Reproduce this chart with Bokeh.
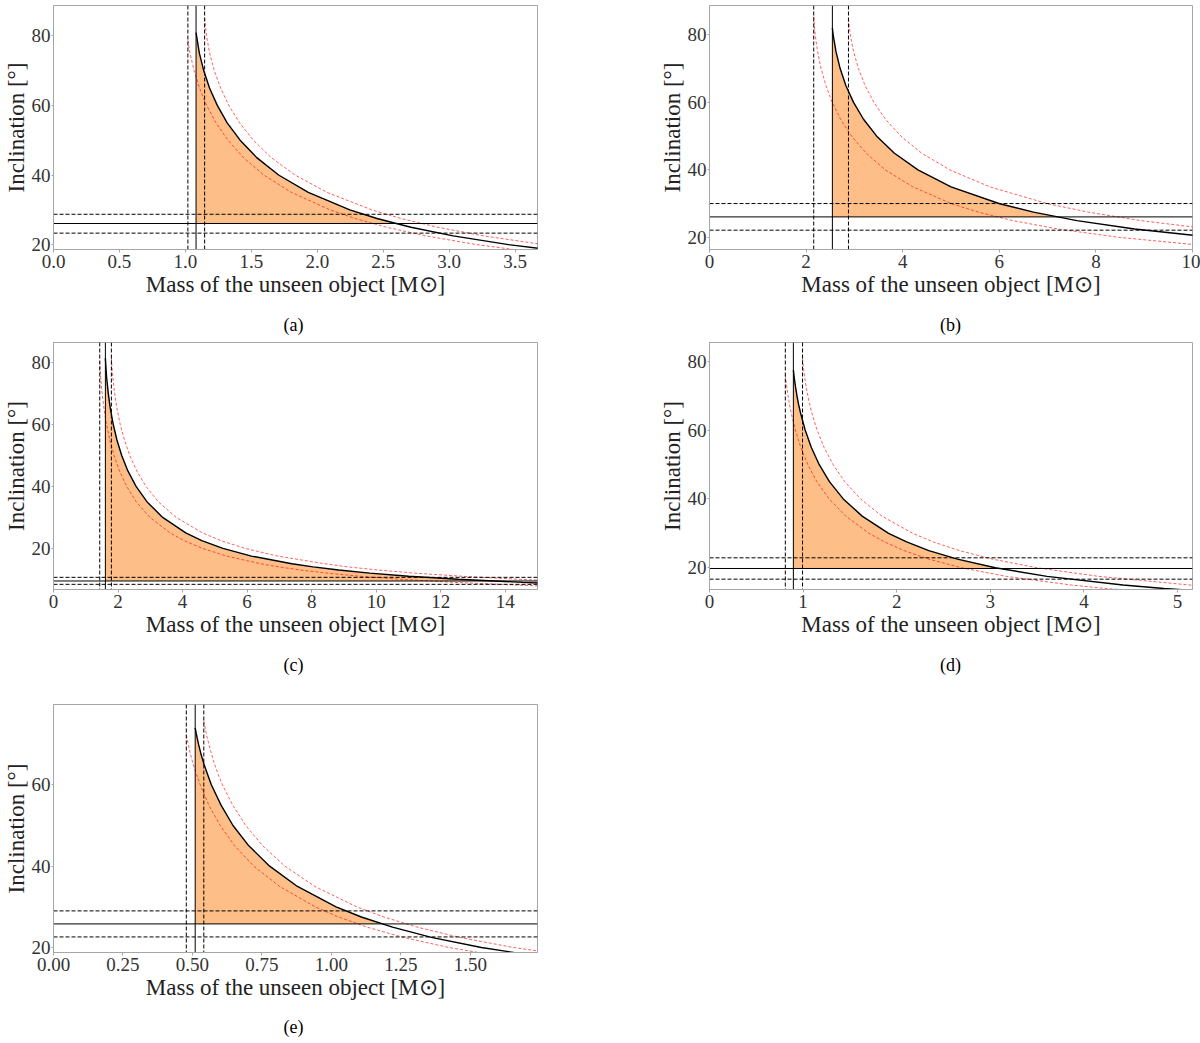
import numpy as np
from bokeh.plotting import figure
from bokeh.models import Range1d, FixedTicker, NumeralTickFormatter, Span, Div
from bokeh.layouts import column, row
from bokeh.embed import file_html
from bokeh.resources import INLINE

# ---------------- data ----------------
# vertical lines: [lower, best, upper] minimum mass of the unseen object
# horizontal lines: [lower, best, upper] inclination
a_vlines = [1.019, 1.081, 1.146]
a_hlines = [23.3, 26.07, 28.72]
a_black_inc = [80.9, 75, 70, 65, 60, 55, 50, 45, 40, 35, 30, 27.5, 25, 22.5, 20, 18]
a_black_m = [1.081, 1.106, 1.139, 1.183, 1.242, 1.317, 1.415, 1.541, 1.707, 1.932, 2.247, 2.453, 2.710, 3.031, 3.450, 3.882]
a_redlo_inc = [78.7, 75, 70, 65, 60, 55, 50, 45, 40, 35, 30, 27.5, 25, 22.5, 20, 18]
a_redlo_m = [1.019, 1.035, 1.066, 1.107, 1.161, 1.232, 1.323, 1.440, 1.595, 1.804, 2.096, 2.288, 2.526, 2.824, 3.210, 3.609]
a_redhi_inc = [85.1, 80, 75, 70, 65, 60, 55, 50, 45, 40, 35, 30, 27.5, 25, 22.5, 20, 18]
a_redhi_m = [1.146, 1.160, 1.184, 1.219, 1.267, 1.329, 1.411, 1.515, 1.651, 1.831, 2.074, 2.413, 2.636, 2.913, 3.263, 3.716, 4.185]

b_vlines = [2.158, 2.544, 2.877]
b_hlines = [22.17, 26.1, 30.05]
b_black_inc = [82, 80, 75, 70, 65, 60, 55, 50, 45, 40, 35, 30, 27.5, 25, 22.5, 20]
b_black_m = [2.544, 2.560, 2.619, 2.705, 2.823, 2.982, 3.189, 3.462, 3.823, 4.315, 5.000, 6.008, 6.708, 7.607, 8.801, 10.445]
b_redlo_inc = [85.4, 80, 75, 70, 65, 60, 55, 50, 45, 40, 35, 30, 27.5, 25, 22.5, 20, 17.5]
b_redlo_m = [2.158, 2.188, 2.238, 2.310, 2.409, 2.541, 2.714, 2.941, 3.241, 3.641, 4.208, 5.011, 5.571, 6.281, 7.220, 8.506, 10.339]
b_redhi_inc = [84.7, 80, 75, 70, 65, 60, 55, 50, 45, 40, 35, 30, 27.5, 25, 22.5]
b_redhi_m = [2.877, 2.914, 2.983, 3.084, 3.220, 3.403, 3.644, 3.963, 4.389, 4.976, 5.803, 7.001, 7.847, 8.931, 10.372]

c_vlines = [1.433, 1.608, 1.794]
c_hlines = [8.37, 9.45, 10.63]
c_black_inc = [81.4, 77.5, 75, 70, 65, 60, 55, 50, 45, 40, 35, 30, 25, 22.5, 20, 17.5, 15, 14, 13, 12, 11, 10, 9, 8.5]
c_black_m = [1.608, 1.631, 1.648, 1.698, 1.764, 1.852, 1.966, 2.114, 2.305, 2.559, 2.901, 3.384, 4.097, 4.596, 5.252, 6.134, 7.386, 8.048, 8.840, 9.805, 11.008, 12.541, 14.547, 15.808]
c_redlo_inc = [80.5, 77.5, 75, 70, 65, 60, 55, 50, 45, 40, 35, 30, 25, 22.5, 20, 17.5, 15, 14, 13, 12, 11, 10, 9, 8, 7.5]
c_redlo_m = [1.433, 1.449, 1.465, 1.508, 1.567, 1.645, 1.745, 1.875, 2.044, 2.267, 2.567, 2.989, 3.610, 4.045, 4.609, 5.365, 6.428, 6.987, 7.655, 8.468, 9.475, 10.752, 12.421, 14.678, 16.030]
c_redhi_inc = [81.5, 77.5, 75, 70, 65, 60, 55, 50, 45, 40, 35, 30, 25, 22.5, 20, 17.5, 15, 14, 13, 12, 11, 10, 9.5]
c_redhi_m = [1.794, 1.819, 1.840, 1.895, 1.970, 2.069, 2.198, 2.364, 2.580, 2.866, 3.253, 3.801, 4.615, 5.186, 5.931, 6.943, 8.412, 9.125, 10.051, 11.188, 12.610, 14.435, 15.539]

d_vlines = [0.810, 0.896, 0.994]
d_hlines = [16.7, 19.8, 22.9]
d_black_inc = [77.4, 75, 72.5, 70, 67.5, 65, 60, 55, 50, 45, 40, 35, 30, 27.5, 25, 22.5, 20, 17.5, 15, 14, 13]
d_black_m = [0.896, 0.906, 0.919, 0.934, 0.951, 0.972, 1.022, 1.087, 1.171, 1.281, 1.429, 1.631, 1.913, 2.106, 2.343, 2.649, 3.053, 3.606, 4.417, 4.854, 5.385]
d_redlo_inc = [76, 72.5, 70, 67.5, 65, 60, 55, 50, 45, 40, 35, 30, 27.5, 25, 22.5, 20, 17.5, 15, 14, 13]
d_redlo_m = [0.810, 0.825, 0.839, 0.854, 0.872, 0.917, 0.975, 1.049, 1.147, 1.278, 1.456, 1.705, 1.871, 2.078, 2.345, 2.694, 3.172, 3.865, 4.228, 4.686]
d_redhi_inc = [80.8, 77.5, 75, 72.5, 70, 67.5, 65, 60, 55, 50, 45, 40, 35, 30, 27.5, 25, 22.5, 20, 17.5, 15, 14]
d_redhi_m = [0.994, 1.006, 1.018, 1.033, 1.050, 1.069, 1.093, 1.149, 1.223, 1.319, 1.445, 1.613, 1.842, 2.171, 2.391, 2.668, 3.026, 3.502, 4.161, 5.132, 5.643]

e_vlines = [0.478, 0.510, 0.541]
e_hlines = [22.6, 25.8, 29.0]
e_black_inc = [74, 72.5, 70, 67.5, 65, 62.5, 60, 55, 50, 45, 40, 35, 30, 27.5, 25, 22.5, 20, 17.5]
e_black_m = [0.510, 0.514, 0.522, 0.531, 0.542, 0.555, 0.568, 0.603, 0.646, 0.703, 0.778, 0.878, 1.017, 1.108, 1.220, 1.360, 1.540, 1.778]
e_redlo_inc = [72.2, 70, 67.5, 65, 62.5, 60, 55, 50, 45, 40, 35, 30, 27.5, 25, 22.5, 20, 17.5]
e_redlo_m = [0.478, 0.485, 0.493, 0.503, 0.515, 0.528, 0.559, 0.600, 0.652, 0.721, 0.814, 0.942, 1.026, 1.129, 1.258, 1.423, 1.641]
e_redhi_inc = [75.7, 72.5, 70, 67.5, 65, 62.5, 60, 55, 50, 45, 40, 35, 30, 27.5, 25, 22.5, 20, 17.5]
e_redhi_m = [0.541, 0.550, 0.559, 0.569, 0.580, 0.593, 0.608, 0.645, 0.692, 0.753, 0.833, 0.941, 1.091, 1.189, 1.310, 1.461, 1.655, 1.914]

# axis extents and tick values
a_xrange, a_yrange = (0, 3.67), (18.6, 88.7)
b_xrange, b_yrange = (0, 10), (16.45, 88.67)
c_xrange, c_yrange = (0, 15), (6.7, 86.5)
d_xrange, d_yrange = (0, 5.16), (13.7, 85.4)
e_xrange, e_yrange = (0, 1.742), (18.77, 79.75)
a_xticks = [0.0, 0.5, 1.0, 1.5, 2.0, 2.5, 3.0, 3.5]
b_xticks = [0, 2, 4, 6, 8, 10]
c_xticks = [0, 2, 4, 6, 8, 10, 12, 14]
d_xticks = [0, 1, 2, 3, 4, 5]
e_xticks = [0.0, 0.25, 0.5, 0.75, 1.0, 1.25, 1.5]
yticks_4 = [20, 40, 60, 80]
yticks_3 = [20, 40, 60]
panel_labels = ["(a)", "(b)", "(c)", "(d)", "(e)"]

XLABEL = "Mass of the unseen object [M\u2299]"
YLABEL = "Inclination [\u00b0]"
FONT = "Liberation Serif"
FRAME = "#a6a6a6"
FILL = "#FDBF87"


def panel(xr, yr, xt, yt, xfmt, vl, hl, bl_i, bl_m, lo_i, lo_m, hi_i, hi_m,
          w, h, bleft, bright, btop, bbottom):
    p = figure(width=w, height=h, x_range=Range1d(*xr), y_range=Range1d(*yr),
               output_backend="svg", toolbar_location=None, title=None,
               min_border_left=bleft, min_border_right=bright,
               min_border_top=btop, min_border_bottom=bbottom)
    # filled region: right of best minimum mass, above best inclination, below black curve
    i_obs = hl[1]
    m_cross = float(np.interp(i_obs, bl_i[::-1], bl_m[::-1]))
    xs = [m for m, i in zip(bl_m, bl_i) if i >= i_obs] + [m_cross, vl[1]]
    ys = [i for i in bl_i if i >= i_obs] + [i_obs, i_obs]
    p.patch(xs, ys, fill_color=FILL, fill_alpha=1.0, line_color=None)
    # reference lines
    for k, v in enumerate(vl):
        dash = "solid" if k == 1 else "4 2"
        p.add_layout(Span(location=v, dimension="height", line_color="black",
                          line_width=1.0, line_dash=dash, level="glyph"))
    for k, v in enumerate(hl):
        dash = "solid" if k == 1 else "4 2"
        p.add_layout(Span(location=v, dimension="width", line_color="black",
                          line_width=1.0, line_dash=dash, level="glyph"))
    # curves
    p.line(lo_m, lo_i, line_color="red", line_alpha=0.7, line_width=0.9, line_dash="3 2")
    p.line(hi_m, hi_i, line_color="red", line_alpha=0.7, line_width=0.9, line_dash="3 2")
    p.line(bl_m, bl_i, line_color="black", line_width=1.4)

    p.xgrid.visible = False
    p.ygrid.visible = False
    p.outline_line_color = FRAME
    p.outline_line_width = 1
    p.xaxis.ticker = FixedTicker(ticks=xt)
    p.yaxis.ticker = FixedTicker(ticks=yt)
    p.xaxis.formatter = NumeralTickFormatter(format=xfmt)
    p.yaxis.formatter = NumeralTickFormatter(format="0")
    for ax in (p.xaxis[0], p.yaxis[0]):
        ax.axis_line_color = FRAME
        ax.major_tick_line_color = FRAME
        ax.major_tick_in = 0
        ax.minor_tick_line_color = None
        ax.major_label_text_font = FONT
        ax.major_label_text_font_size = "19px"
        ax.major_label_text_color = "#333333"
        ax.axis_label_text_font = FONT
        ax.axis_label_text_font_size = "23px"
        ax.axis_label_text_font_style = "normal"
        ax.axis_label_text_color = "#222222"
    p.xaxis.major_tick_out = 3
    p.xaxis.major_label_standoff = 2
    p.xaxis.axis_label_standoff = 1
    p.yaxis.major_tick_out = 2
    p.yaxis.major_label_standoff = 1
    p.yaxis.axis_label_standoff = 0
    p.xaxis.axis_label = XLABEL
    p.yaxis.axis_label = YLABEL
    return p


def caption(text, width, height):
    return Div(text=text, width=width, height=height, margin=(0, 0, 0, 0),
               styles={"text-align": "center", "font-family": FONT,
                       "font-size": "18px", "line-height": f"{height}px",
                       "color": "black"})


def gap(width, height):
    return Div(text="", width=width, height=height, margin=(0, 0, 0, 0))


pa = panel(a_xrange, a_yrange, a_xticks, yticks_4, "0.0",
           a_vlines, a_hlines, a_black_inc, a_black_m, a_redlo_inc, a_redlo_m,
           a_redhi_inc, a_redhi_m, 600, 311, 50, 63, 2, 62)
pb = panel(b_xrange, b_yrange, b_xticks, yticks_4, "0",
           b_vlines, b_hlines, b_black_inc, b_black_m, b_redlo_inc, b_redlo_m,
           b_redhi_inc, b_redhi_m, 600, 311, 109, 8, 5, 62)
pc = panel(c_xrange, c_yrange, c_xticks, yticks_4, "0",
           c_vlines, c_hlines, c_black_inc, c_black_m, c_redlo_inc, c_redlo_m,
           c_redhi_inc, c_redhi_m, 600, 312, 50, 63, 3, 62)
pd_ = panel(d_xrange, d_yrange, d_xticks, yticks_4, "0",
            d_vlines, d_hlines, d_black_inc, d_black_m, d_redlo_inc, d_redlo_m,
            d_redhi_inc, d_redhi_m, 600, 312, 109, 8, 3, 62)
pe = panel(e_xrange, e_yrange, e_xticks, yticks_3, "0.00",
           e_vlines, e_hlines, e_black_inc, e_black_m, e_redlo_inc, e_redlo_m,
           e_redhi_inc, e_redhi_m, 600, 335, 50, 63, 25, 62)

cap_h = 28
cap_row1 = row(caption(panel_labels[0], 587, cap_h), gap(122, cap_h), caption(panel_labels[1], 483, cap_h))
cap_row2 = row(caption(panel_labels[2], 587, cap_h), gap(122, cap_h), caption(panel_labels[3], 483, cap_h))
cap_row3 = row(caption(panel_labels[4], 587, 26))

layout = column(row(pa, pb), cap_row1, row(pc, pd_), cap_row2, row(pe), cap_row3)
open("out.html", "w").write(file_html(layout, INLINE))
